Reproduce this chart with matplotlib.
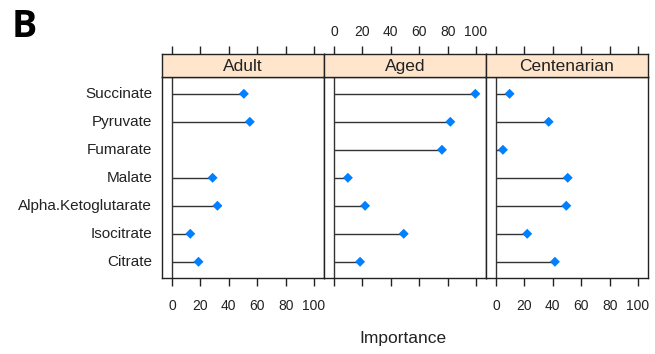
import numpy as np
import matplotlib
matplotlib.use("Agg")
import matplotlib.pyplot as plt

plt.rcParams['font.family'] = ['Liberation Sans', 'DejaVu Sans']

# Metabolite importance scores per age group
metabolites = ["Succinate", "Pyruvate", "Fumarate", "Malate",
               "Alpha.Ketoglutarate", "Isocitrate", "Citrate"]
groups = ["Adult", "Aged", "Centenarian"]
adult = [50.6, 54.8, np.nan, 28.6, 32.0, 12.9, 18.7]
aged = [99.5, 81.9, 76.0, 9.8, 21.9, 49.1, 18.4]
centenarian = [9.6, 37.1, 4.9, 50.5, 49.5, 22.0, 41.5]
values = [adult, aged, centenarian]
xticks = [0, 20, 40, 60, 80, 100]

W, H = 655, 354
fig = plt.figure(figsize=(W / 100, H / 100), dpi=100)

left, right = 162, 648
panel_top, panel_bottom = 77, 278
strip_top = 54
pw = (right - left) / 3

line_col = "#333333"
dot_col = "#0080ff"
strip_col = "#ffe5cc"
text_col = "#222222"

n = len(metabolites)
ypos = np.arange(n)[::-1] + 1  # first metabolite at the top

for i, (grp, vals) in enumerate(zip(groups, values)):
    x0 = left + i * pw
    ax = fig.add_axes([x0 / W, 1 - panel_bottom / H, pw / W,
                       (panel_bottom - panel_top) / H])
    sax = fig.add_axes([x0 / W, 1 - panel_top / H, pw / W,
                        (panel_top - strip_top) / H], sharex=ax)
    ax.set_xlim(-7, 107)
    ax.set_ylim(0.42, n + 0.6)

    ax.axvline(0, color=line_col, lw=1.0, zorder=1)
    v = np.array(vals, dtype=float)
    ok = ~np.isnan(v)
    ax.hlines(ypos[ok], 0, v[ok], color=line_col, lw=1.0, zorder=2)
    ax.scatter(v[ok], ypos[ok], marker="D", s=26, color=dot_col,
               edgecolors="none", zorder=3)

    for a in (ax, sax):
        for sp in a.spines.values():
            sp.set_color("#222222")
            sp.set_linewidth(1.0)

    # bottom ticks on every panel, labels on the outer panels
    ax.set_xticks(xticks)
    ax.tick_params(axis="x", direction="out", length=6, width=1,
                   color="#222222", labelsize=10, pad=9,
                   labelcolor=text_col,
                   labelbottom=(i != 1), top=False)
    ax.set_yticks([])

    # top ticks sit above the strip, labelled on the middle panel
    sax.set_facecolor(strip_col)
    sax.set_yticks([])
    sax.tick_params(axis="x", direction="out", length=6, width=1,
                    color="#222222", labelsize=10, pad=5,
                    labelcolor=text_col,
                    bottom=False, labelbottom=False,
                    top=True, labeltop=(i == 1))
    sax.text(0.5, 0.45, grp, transform=sax.transAxes, ha="center",
             va="center", fontsize=12.5, color=text_col)

    if i == 0:
        for y, name in zip(ypos, metabolites):
            ax.text(-0.06, y, name, transform=ax.get_yaxis_transform(),
                    ha="right", va="center", fontsize=11,
                    color=text_col)

fig.text(403 / W, 1 - 338 / H, "Importance", ha="center", va="center",
         fontsize=12.5, color=text_col)
fig.text(12 / W, 1 - 27 / H, "B", ha="left", va="center", fontsize=27,
         fontweight="bold", color="black",
         family=["Open Sans", "DejaVu Sans"])

fig.savefig("out.png", dpi=100, facecolor="white")
